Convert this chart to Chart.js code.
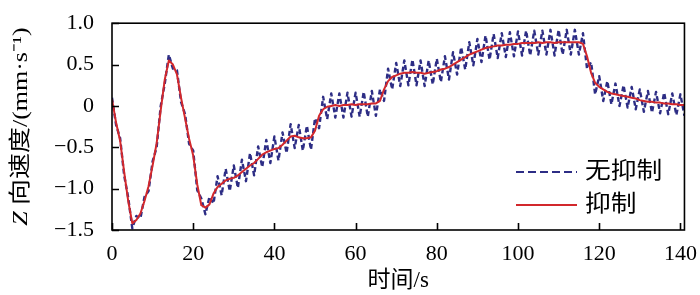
<!DOCTYPE html>
<html>
<head>
<meta charset="utf-8">
<script src="https://cdn.jsdelivr.net/npm/chart.js@4/dist/chart.umd.min.js"></script>
<style>
  html, body { margin: 0; padding: 0; background: #fff; }
</style>
</head>
<body>
<canvas id="c" width="700" height="295"></canvas>
<script>
// time stamps, 1 s apart
const seconds = Array.from({ length: 142 }, (_, i) => i);

// Z velocity without suppression (mm/s)
const unsuppressed = [
  0.10, -0.23, -0.39, -0.84, -1.11, -1.48, -1.33, -1.36, -1.10, -1.03,
  -0.67, -0.50, 0.00, 0.27, 0.62, 0.45, 0.43, 0.05, -0.10, -0.46,
  -0.54, -1.02, -1.12, -1.31, -1.10, -1.18, -0.85, -1.08, -0.76, -1.03,
  -0.72, -0.99, -0.65, -0.91, -0.57, -0.84, -0.49, -0.74, -0.41, -0.69,
  -0.37, -0.66, -0.32, -0.57, -0.22, -0.51, -0.23, -0.54, -0.24, -0.53,
  -0.15, -0.27, 0.11, -0.16, 0.15, -0.14, 0.15, -0.14, 0.16, -0.13,
  0.16, -0.13, 0.17, -0.13, 0.18, -0.12, 0.20, 0.06, 0.45, 0.20,
  0.52, 0.24, 0.55, 0.25, 0.56, 0.25, 0.55, 0.24, 0.55, 0.26,
  0.57, 0.29, 0.60, 0.32, 0.65, 0.38, 0.71, 0.44, 0.77, 0.49,
  0.81, 0.53, 0.85, 0.56, 0.87, 0.58, 0.88, 0.59, 0.89, 0.60,
  0.90, 0.61, 0.91, 0.61, 0.91, 0.62, 0.91, 0.62, 0.92, 0.61,
  0.92, 0.62, 0.92, 0.62, 0.92, 0.62, 0.88, 0.45, 0.53, 0.14,
  0.36, 0.06, 0.30, 0.02, 0.27, 0.00, 0.25, -0.02, 0.23, -0.04,
  0.20, -0.07, 0.18, -0.08, 0.17, -0.09, 0.16, -0.10, 0.15, -0.11,
  0.14, -0.12
];

// Z velocity with suppression (mm/s)
const suppressed = [
  0.08, -0.20, -0.42, -0.80, -1.15, -1.42, -1.38, -1.30, -1.15, -0.97,
  -0.72, -0.45, -0.05, 0.32, 0.55, 0.50, 0.38, 0.10, -0.15, -0.40,
  -0.60, -0.95, -1.20, -1.23, -1.19, -1.06, -0.98, -0.94, -0.90, -0.88,
  -0.87, -0.84, -0.80, -0.76, -0.72, -0.69, -0.64, -0.59, -0.56, -0.54,
  -0.52, -0.51, -0.47, -0.42, -0.37, -0.36, -0.38, -0.39, -0.39, -0.38,
  -0.30, -0.12, -0.04, -0.01, 0.00, 0.01, 0.00, 0.01, 0.01, 0.02,
  0.01, 0.02, 0.02, 0.02, 0.03, 0.03, 0.06, 0.20, 0.30, 0.35,
  0.37, 0.39, 0.40, 0.40, 0.41, 0.40, 0.40, 0.39, 0.40, 0.41,
  0.42, 0.44, 0.45, 0.47, 0.50, 0.53, 0.56, 0.59, 0.62, 0.64,
  0.66, 0.68, 0.70, 0.71, 0.72, 0.73, 0.73, 0.74, 0.74, 0.75,
  0.75, 0.76, 0.76, 0.76, 0.76, 0.77, 0.76, 0.77, 0.77, 0.76,
  0.77, 0.77, 0.77, 0.77, 0.77, 0.77, 0.75, 0.60, 0.40, 0.28,
  0.23, 0.20, 0.17, 0.15, 0.14, 0.13, 0.12, 0.11, 0.10, 0.09,
  0.07, 0.06, 0.05, 0.05, 0.04, 0.04, 0.03, 0.03, 0.02, 0.02,
  0.01, 0.01
];

const xTicks = [0, 20, 40, 60, 80, 100, 120, 140];
const yTicks = [-1.5, -1.0, -0.5, 0, 0.5, 1.0];

const serif = "'Liberation Serif', 'Noto Sans CJK SC', serif";
const blue = "#2d2d85";
const red = "#d2282c";

const toPoints = (vals) => seconds.map((t, i) => ({ x: t, y: vals[i] }));

// frame, inward tick marks, y title and legend
const decor = {
  id: "decor",
  afterDatasetsDraw(chart) {
    const { ctx, chartArea: a, scales } = chart;
    ctx.save();
    ctx.strokeStyle = "#000";
    ctx.lineWidth = 1.6;
    ctx.strokeRect(a.left, a.top, a.right - a.left, a.bottom - a.top);
    ctx.beginPath();
    xTicks.forEach((v) => {
      const px = Math.round(scales.x.getPixelForValue(v)) + 0.5;
      ctx.moveTo(px, a.bottom);
      ctx.lineTo(px, a.bottom - 7);
    });
    yTicks.forEach((v) => {
      const py = Math.round(scales.y.getPixelForValue(v)) + 0.5;
      ctx.moveTo(a.left, py);
      ctx.lineTo(a.left + 7, py);
    });
    ctx.stroke();

    // y axis title, stretched a little along its length like the original
    ctx.translate(21, (a.top + a.bottom) / 2);
    ctx.rotate(-Math.PI / 2);
    ctx.scale(1.18, 1);
    ctx.fillStyle = "#000";
    ctx.textBaseline = "middle";
    const italic = "italic 22px " + serif;
    const plain = "22px " + serif;
    ctx.font = italic;
    const wz = ctx.measureText("Z ").width;
    ctx.font = plain;
    const rest = "向速度/(mm·s⁻¹)";
    const wr = ctx.measureText(rest).width;
    const x0 = -(wz + wr) / 2;
    ctx.font = italic;
    ctx.textAlign = "left";
    ctx.fillText("Z", x0, 0);
    ctx.font = plain;
    ctx.fillText(rest, x0 + wz, 0);
    ctx.restore();

    // legend
    ctx.save();
    const items = [
      { ds: chart.data.datasets[1], y: 172 },
      { ds: chart.data.datasets[0], y: 205 }
    ];
    items.forEach((it) => {
      ctx.beginPath();
      ctx.strokeStyle = it.ds.borderColor;
      ctx.lineWidth = 2;
      ctx.setLineDash(it.ds.borderDash ? [8, 4] : []);
      ctx.moveTo(516, it.y);
      ctx.lineTo(577, it.y);
      ctx.stroke();
      ctx.setLineDash([]);
      ctx.save();
      ctx.translate(585, it.y);
      ctx.scale(1.12, 1);
      ctx.fillStyle = "#000";
      ctx.font = "23px " + serif;
      ctx.textBaseline = "middle";
      ctx.fillText(it.ds.label, 0, 0);
      ctx.restore();
    });
    ctx.restore();
  }
};

new Chart(document.getElementById("c"), {
  type: "line",
  data: {
    datasets: [
      {
        label: "抑制",
        data: toPoints(suppressed),
        borderColor: red,
        borderWidth: 2,
        borderJoinStyle: "round",
        pointRadius: 0,
        tension: 0
      },
      {
        label: "无抑制",
        data: toPoints(unsuppressed),
        borderColor: blue,
        borderWidth: 2.4,
        borderDash: [5, 3],
        borderJoinStyle: "round",
        pointRadius: 0,
        tension: 0
      }
    ]
  },
  options: {
    responsive: false,
    animation: false,
    layout: { padding: { top: 9, right: 14, left: 0, bottom: 0 } },
    scales: {
      x: {
        type: "linear",
        min: 0,
        max: 141,
        grid: { display: false },
        border: { display: false },
        afterBuildTicks: (s) => { s.ticks = xTicks.map((v) => ({ value: v })); },
        ticks: {
          color: "#000",
          font: { family: serif, size: 22 },
          padding: 3,
          maxRotation: 0
        },
        title: {
          display: true,
          text: "时间/s",
          color: "#000",
          font: { family: serif, size: 23 },
          padding: { top: 0, bottom: 0 }
        },
        afterFit: (s) => { s.height = 65; }
      },
      y: {
        min: -1.5,
        max: 1.0,
        grid: { display: false },
        border: { display: false },
        afterBuildTicks: (s) => { s.ticks = yTicks.map((v) => ({ value: v })); },
        ticks: {
          color: "#000",
          font: { family: serif, size: 22 },
          padding: 10,
          callback: (v) => (v === 0 ? "0" : v.toFixed(1).replace("-", "−"))
        },
        afterFit: (s) => { s.width = 112; }
      }
    },
    plugins: {
      legend: { display: false },
      tooltip: { enabled: false }
    }
  },
  plugins: [decor]
});
</script>
</body>
</html>
